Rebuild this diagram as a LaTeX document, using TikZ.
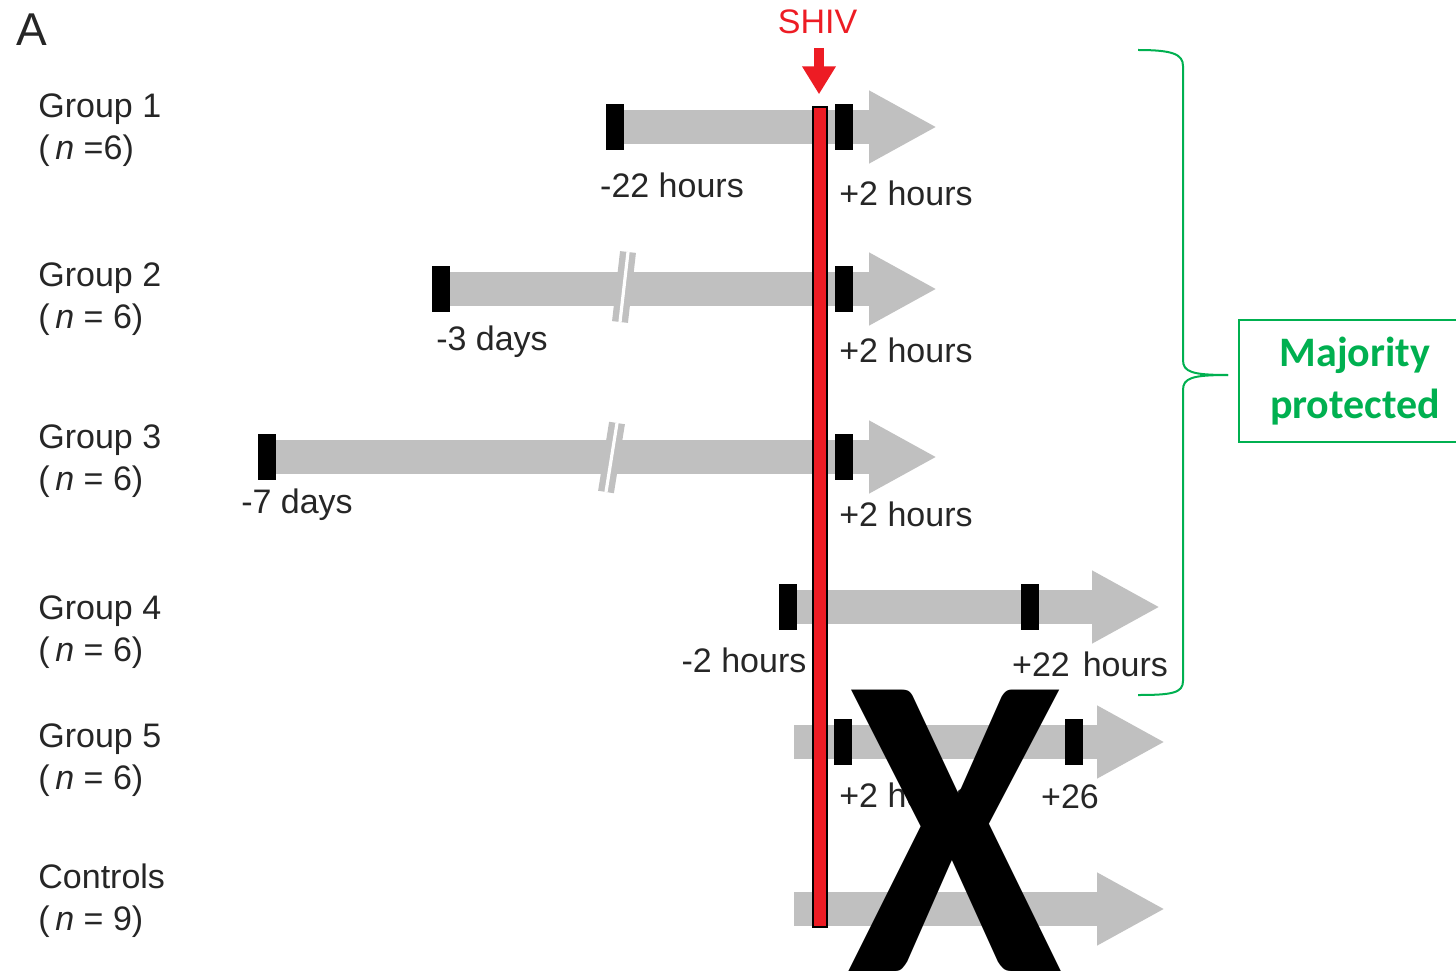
\documentclass[tikz,border=0pt]{standalone}
\usepackage{fontspec}
\setmainfont{Liberation Sans}
\newfontfamily\calibrifont{Carlito}
\usetikzlibrary{arrows.meta,positioning,backgrounds}
\definecolor{bargray}{RGB}{192,192,192}
\definecolor{shivred}{RGB}{237,28,36}
\definecolor{protgreen}{RGB}{0,176,80}
\newcommand{\grp}[2]{Group #1\\(\,\textit{n} #2)}

\begin{document}
\begin{tikzpicture}[x=0.5pt, y=-0.5pt,
  lbl/.style={font=\fontsize{17}{21}\selectfont, text=black!85, inner sep=0},
  grp/.style={lbl, anchor=west, align=left},
  tick/.style={fill=black, minimum width=9pt, minimum height=23pt, inner sep=0},
  bar/.style={bargray, line width=17pt, -{Triangle[length=34pt, width=34pt]}},
  cut/.style={bargray, line width=8pt},
  shivline/.style={fill=shivred, draw=black, line width=0.7pt, minimum width=7pt, minimum height=410pt, inner sep=0},
  shivarr/.style={shivred, line width=5pt, -{Triangle[length=14pt, width=16pt]}},
  protbox/.style={draw=protgreen, line width=1pt, text=protgreen, font=\calibrifont\bfseries\fontsize{21}{26}\selectfont, align=center, minimum width=116pt, minimum height=61pt},
  brace/.style={protgreen, line width=1pt},
  nope/.style={font=\calibrifont\bfseries\fontsize{217}{217}\selectfont, inner sep=0, xscale=0.9}
]
\useasboundingbox (0,0) rectangle (1456,973);

\node[lbl, font=\fontsize{23}{23}\selectfont] (panel) at (32,30) {A};

\node[grp] (g1) at (38,130) {\grp{1}{=6}};
\node[grp] (g2) at (38,299) {\grp{2}{= 6}};
\node[grp] (g3) at (38,461) {\grp{3}{= 6}};
\node[grp] (g4) at (38,632) {\grp{4}{= 6}};
\node[grp] (g5) at (38,760) {\grp{5}{= 6}};
\node[grp] (g6) at (38,901) {Controls\\(\,\textit{n} = 9)};

\node[tick] (t1a) at (615,127) {};
\node[tick] (t1b) at (844,127) {};
\node[tick] (t2a) at (441,289) {};
\node[tick] (t2b) at (844,289) {};
\node[tick] (t3a) at (267,457) {};
\node[tick] (t3b) at (844,457) {};
\node[tick] (t4a) at (788,607) {};
\node[tick] (t4b) at (1030,607) {};
\node[tick] (t5a) at (843,742) {};
\node[tick] (t5b) at (1074,742) {};
\coordinate (s5) at (794,742);
\coordinate (s6) at (794,909);
\coordinate (e1) at (937,127);
\coordinate (e2) at (937,289);
\coordinate (e3) at (937,457);
\coordinate (e4) at (1160,607);
\coordinate (e5) at (1165,742);
\coordinate (e6) at (1165,909);

\begin{scope}[on background layer]
\draw[bar] (t1a.center) -- (e1);
\draw[bar] (t2a.center) -- (e2);
\draw[bar] (t3a.center) -- (e3);
\draw[bar] (t4a.center) -- (e4);
\draw[bar] (s5) -- (e5);
\draw[bar] (s6) -- (e6);
\end{scope}
\foreach \xa/\ya/\xb/\yb in {628/252/620/322, 617/423/606/492} {
  \draw[cut] (\xa,\ya) -- (\xb,\yb);
  \draw[white, line width=1.6pt] (\xa,\ya) -- (\xb,\yb);
}

\node[lbl] (l1a) at (672,185) {-22 hours};
\node[lbl] (l1b) at (906,193) {+2 hours};
\node[lbl] (l2a) at (492,342) {-3 days};
\node[lbl] (l2b) at (906,350) {+2 hours};
\node[lbl] (l3a) at (297,505) {-7 days};
\node[lbl] (l3b) at (906,514) {+2 hours};
\node[lbl] (l4a) at (744,660) {-2 hours};
\node[lbl] (l4b) at (1090,664) {+22\hspace{6.5pt}hours};
\node[lbl] (l5a) at (906,795) {+2 hours};
\node[lbl] (l5b) at (1070,797) {+26};

\node[shivline] (hitline) at (820,517) {};
\node[lbl, text=shivred] (shiv) at (817.5,22) {SHIV};
\coordinate (drop) at (819,48);
\draw[shivarr] (drop) -- ([yshift=6pt]hitline.north -| drop);

\node[protbox] (prot) at (1355,381) {Majority\\protected};
\coordinate (tip) at (1228,375);
\draw[brace] (1138,50) .. controls (1172,50) and (1183,54) .. (1183,66) -- (1183,360) .. controls (1183,372) and (1192,375) .. (tip);
\draw[brace] (tip) .. controls (1192,375) and (1183,378) .. (1183,390) -- (1183,681) .. controls (1183,693) and (1172,695) .. (1138,695);

\node[nope] (nope) at (955,831) {X};
\end{tikzpicture}
\end{document}
